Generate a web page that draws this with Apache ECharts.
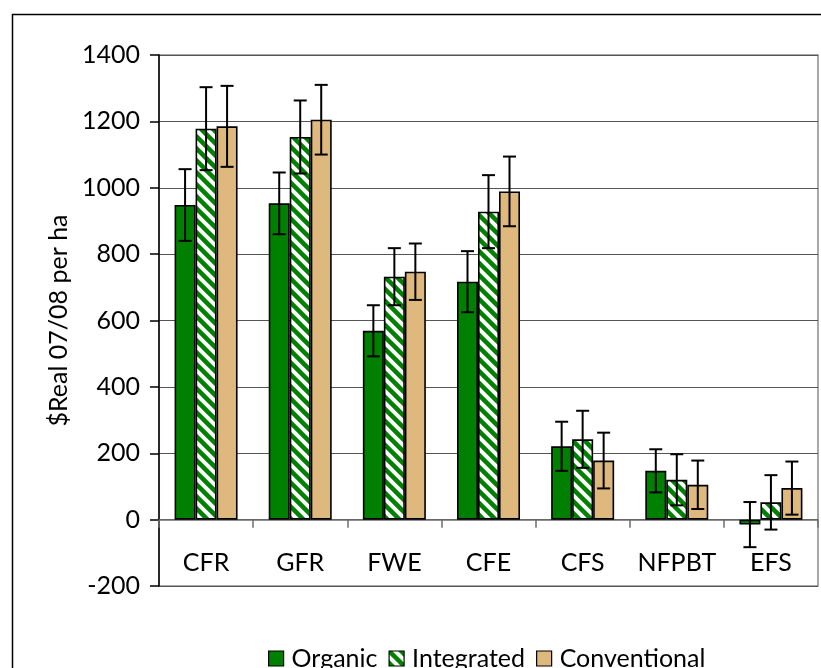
<!DOCTYPE html>
<html>
<head>
<meta charset="utf-8">
<script src="https://cdn.jsdelivr.net/npm/echarts@6/dist/echarts.min.js"></script>
<style>
html,body{margin:0;padding:0;background:#fff;}
#chart{width:821px;height:668px;}
</style>
</head>
<body>
<div id="chart"></div>
<script>
const categories = ['CFR', 'GFR', 'FWE', 'CFE', 'CFS', 'NFPBT', 'EFS'];
const organic = [948, 953, 569, 717, 221, 147, -15];
const organicErr = [108, 93, 77, 92, 74, 65, 68];
const integrated = [1178, 1153, 732, 928, 242, 120, 52];
const integratedErr = [125, 110, 86, 110, 86, 77, 82];
const conventional = [1185, 1205, 747, 989, 178, 105, 95];
const conventionalErr = [122, 105, 85, 105, 84, 73, 80];
const yTicks = { min: -200, max: 1400, interval: 200 };

const GREEN = '#008000';
const TAN = '#DFB87D';
const FONT = 'Lato';

// diagonal stripe pattern for Integrated
const tile = document.createElement('canvas');
tile.width = 12; tile.height = 12;
const tc = tile.getContext('2d');
tc.fillStyle = '#ffffff';
tc.fillRect(0, 0, 12, 12);
tc.strokeStyle = GREEN;
tc.lineWidth = 4.5;
tc.lineCap = 'square';
[-12, 0, 12].forEach(function (x0) {
  tc.beginPath();
  tc.moveTo(x0, 0);
  tc.lineTo(x0 + 12, 12);
  tc.stroke();
});
const stripe = { image: tile, repeat: 'repeat' };

const BAR_W = 21;

function errSeries(vals, errs, offset) {
  return {
    type: 'custom',
    z: 10,
    silent: true,
    encode: { x: 0, y: 1 },
    data: vals.map(function (v, i) { return [i, v, errs[i]]; }),
    renderItem: function (params, api) {
      const i = api.value(0), v = api.value(1), e = api.value(2);
      const hi = api.coord([i, v + e]);
      const lo = api.coord([i, v - e]);
      const cx = hi[0] + offset;
      const half = 6.5;
      const st = { stroke: '#000', lineWidth: 2 };
      return {
        type: 'group',
        children: [
          { type: 'line', shape: { x1: cx, y1: hi[1], x2: cx, y2: lo[1] }, style: st },
          { type: 'line', shape: { x1: cx - half, y1: hi[1], x2: cx + half, y2: hi[1] }, style: st },
          { type: 'line', shape: { x1: cx - half, y1: lo[1], x2: cx + half, y2: lo[1] }, style: st }
        ]
      };
    }
  };
}

function barSeries(name, data, color) {
  return {
    name: name,
    type: 'bar',
    data: data,
    barWidth: BAR_W,
    barGap: '0%',
    itemStyle: { color: color, borderColor: '#000', borderWidth: 1.6 },
    emphasis: { disabled: true }
  };
}

const chart = echarts.init(document.getElementById('chart'), null, { renderer: 'canvas' });
chart.setOption({
  animation: false,
  backgroundColor: '#fff',
  textStyle: { fontFamily: FONT, color: '#000' },
  graphic: [{
    type: 'rect',
    left: 10, top: 12,
    shape: { x: 0, y: 0, width: 900, height: 800 },
    style: { fill: 'none', stroke: '#000', lineWidth: 1.5 },
    silent: true, z: -10
  }],
  grid: {
    left: 159, right: 3, top: 55, bottom: 82,
    show: true, borderColor: '#8c8c8c', borderWidth: 1.5, backgroundColor: 'transparent'
  },
  legend: {
    data: ['Organic', 'Integrated', 'Conventional'],
    left: 263, top: 641,
    icon: 'rect',
    itemWidth: 15, itemHeight: 15,
    itemGap: 11,
    itemStyle: { borderColor: '#000', borderWidth: 1.2 },
    textStyle: { fontFamily: FONT, fontSize: 25, color: '#000', padding: [0, 0, 0, 3] },
    selectedMode: false
  },
  xAxis: {
    type: 'category',
    data: categories,
    axisLine: { onZero: true, lineStyle: { color: '#6e6e6e', width: 1.5 } },
    axisTick: { show: true, length: 8, lineStyle: { color: '#6e6e6e', width: 1.5 } },
    axisLabel: { fontFamily: FONT, fontSize: 25, color: '#000', margin: -36, interval: 0 },
    splitLine: { show: false }
  },
  yAxis: {
    type: 'value',
    min: yTicks.min, max: yTicks.max, interval: yTicks.interval,
    name: '$Real 07/08 per ha',
    nameLocation: 'middle',
    nameGap: 88,
    nameTextStyle: { fontFamily: FONT, fontSize: 25, color: '#000' },
    axisLine: { show: true, lineStyle: { color: '#000', width: 1.5 } },
    axisTick: { show: true, length: 9, lineStyle: { color: '#000', width: 1.5 } },
    axisLabel: { fontFamily: FONT, fontSize: 25, color: '#000', margin: 19, formatter: function (v) { return String(v); } },
    splitLine: { show: true, lineStyle: { color: '#555', width: 1.2 } }
  },
  series: [
    barSeries('Organic', organic, GREEN),
    barSeries('Integrated', integrated, stripe),
    barSeries('Conventional', conventional, TAN),
    errSeries(organic, organicErr, -BAR_W),
    errSeries(integrated, integratedErr, 0),
    errSeries(conventional, conventionalErr, BAR_W)
  ]
});
</script>
</body>
</html>
